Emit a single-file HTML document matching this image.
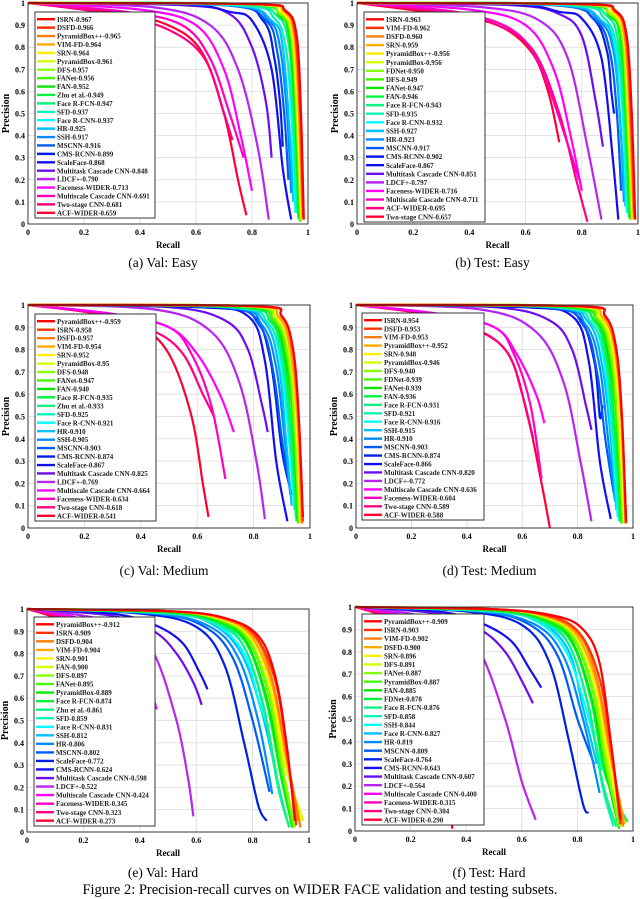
<!DOCTYPE html>
<html><head><meta charset="utf-8"><style>
html,body{margin:0;padding:0;background:#fff}
svg{display:block}
text{font-family:"Liberation Serif",serif}
</style></head><body>
<svg id="fig" width="640" height="899" viewBox="0 0 640 899" xmlns="http://www.w3.org/2000/svg"></svg>
<script>
const colors=["hsl(0,100%,50%)","hsl(12,100%,50%)","hsl(28,100%,52%)","hsl(40,100%,50%)","hsl(56,100%,50%)","hsl(70,100%,50%)","hsl(88,100%,50%)","hsl(102,100%,48%)","hsl(118,100%,45%)","hsl(135,100%,48%)","hsl(150,90%,50%)","hsl(165,90%,50%)","hsl(180,100%,50%)","hsl(195,100%,50%)","hsl(207,100%,50%)","hsl(218,100%,48%)","hsl(232,100%,45%)","hsl(242,90%,50%)","hsl(265,90%,50%)","hsl(282,90%,55%)","hsl(300,100%,50%)","hsl(315,100%,50%)","hsl(330,100%,50%)","hsl(348,100%,50%)"];
const xTicks=["0","0.2","0.4","0.6","0.8","1"];
const yTicks=["0","0.1","0.2","0.3","0.4","0.5","0.6","0.7","0.8","0.9","1"];

const namesA=["ISRN-0.967","DSFD-0.966","PyramidBox++-0.965","VIM-FD-0.964","SRN-0.964","PyramidBox-0.961","DFS-0.957","FANet-0.956","FAN-0.952","Zhu et al.-0.949","Face R-FCN-0.947","SFD-0.937","Face R-CNN-0.937","HR-0.925","SSH-0.917","MSCNN-0.916","CMS-RCNN-0.899","ScaleFace-0.868","Multitask Cascade CNN-0.848","LDCF+-0.790","Faceness-WIDER-0.713","Multiscale Cascade CNN-0.691","Two-stage CNN-0.681","ACF-WIDER-0.659"];
const curvesA=[[.8,.995,.92,.965,.96,.85,.975,.5,.985,.02],[.8,.995,.92,.96,.955,.85,.972,.5,.983,.03],[.8,.995,.92,.96,.955,.85,.97,.5,.98,.1],[.8,.995,.915,.96,.95,.85,.968,.5,.98,.02],[.8,.995,.91,.955,.948,.85,.965,.5,.978,.02],[.8,.995,.91,.95,.945,.85,.962,.5,.976,.02],[.78,.995,.9,.95,.94,.85,.96,.5,.975,.02],[.78,.995,.9,.95,.94,.85,.958,.5,.972,.01],[.78,.995,.9,.94,.935,.85,.955,.5,.97,.02],[.78,.995,.9,.94,.932,.85,.952,.5,.968,.02],[.75,.995,.89,.94,.93,.82,.95,.5,.965,.03],[.75,.99,.88,.93,.92,.8,.945,.5,.96,.05],[.75,.99,.88,.93,.92,.8,.94,.5,.955,.05],[.72,.99,.87,.92,.91,.8,.935,.4,.948,.1],[.72,.99,.86,.92,.9,.8,.925,.5,.94,.14],[.7,.99,.85,.92,.89,.78,.915,.5,.93,.2],[.7,.99,.84,.92,.88,.75,.9,.55,.91,.35],[.55,.995,.72,.96,.8,.92,.87,.7,.91,.25,.94,.02],[.55,.99,.72,.95,.8,.8,.85,.55,.87,.3],[.45,.98,.65,.9,.75,.7,.82,.35,.86,.02],[.4,.97,.6,.9,.7,.7,.76,.4,.8,.15],[.35,.96,.55,.9,.65,.75,.72,.5,.77,.3],[.3,.95,.5,.88,.63,.75,.7,.5,.73,.38],[.3,.96,.5,.9,.62,.78,.7,.5,.75,.2,.78,.04]];

const namesB=["ISRN-0.963","VIM-FD-0.962","DSFD-0.960","SRN-0.959","PyramidBox++-0.956","PyramidBox-0.956","FDNet-0.950","DFS-0.949","FANet-0.947","FAN-0.946","Face R-FCN-0.943","SFD-0.935","Face R-CNN-0.932","SSH-0.927","HR-0.923","MSCNN-0.917","CMS-RCNN-0.902","ScaleFace-0.867","Multitask Cascade CNN-0.851","LDCF+-0.797","Faceness-WIDER-0.716","Multiscale Cascade CNN-0.711","ACF-WIDER-0.695","Two-stage CNN-0.657"];
const curvesB=[[.8,.995,.92,.965,.96,.85,.978,.5,.99,.02],[.8,.995,.92,.96,.958,.85,.975,.5,.988,.03],[.8,.995,.92,.96,.955,.85,.972,.5,.985,.05],[.8,.995,.915,.96,.952,.85,.97,.5,.985,.02],[.8,.995,.91,.955,.95,.85,.968,.5,.982,.02],[.8,.995,.91,.95,.948,.85,.965,.5,.98,.02],[.78,.995,.9,.95,.945,.85,.962,.5,.978,.02],[.78,.995,.9,.95,.942,.85,.96,.5,.975,.02],[.78,.995,.9,.94,.94,.85,.958,.5,.972,.02],[.78,.995,.9,.94,.935,.85,.955,.5,.97,.03],[.75,.995,.89,.94,.93,.82,.952,.5,.968,.03],[.75,.99,.88,.93,.925,.8,.948,.5,.965,.05],[.75,.99,.88,.93,.92,.8,.945,.5,.96,.05],[.72,.99,.87,.92,.915,.8,.94,.4,.955,.08],[.72,.99,.86,.92,.91,.8,.935,.5,.95,.1],[.7,.99,.85,.92,.9,.78,.925,.5,.94,.15],[.7,.99,.84,.93,.89,.78,.905,.6,.915,.5],[.55,.995,.72,.96,.8,.93,.87,.75,.91,.3,.93,.02],[.55,.99,.72,.95,.8,.85,.85,.55,.875,.35],[.45,.98,.65,.92,.75,.75,.82,.35,.87,.02],[.4,.97,.6,.9,.7,.7,.76,.4,.8,.15],[.35,.96,.55,.88,.65,.72,.74,.4,.79,.2],[.3,.96,.5,.9,.63,.78,.72,.5,.78,.2,.82,.01],[.3,.95,.5,.9,.62,.78,.68,.6,.72,.37]];

const namesC=["PyramidBox++-0.959","ISRN-0.958","DSFD-0.957","VIM-FD-0.954","SRN-0.952","PyramidBox-0.95","DFS-0.948","FANet-0.947","FAN-0.940","Face R-FCN-0.935","Zhu et al.-0.933","SFD-0.925","Face R-CNN-0.921","HR-0.910","SSH-0.905","MSCNN-0.903","CMS-RCNN-0.874","ScaleFace-0.867","Multitask Cascade CNN-0.825","LDCF+-0.769","Multiscale Cascade CNN-0.664","Faceness-WIDER-0.634","Two-stage CNN-0.618","ACF-WIDER-0.541"];
const curvesC=[[.8,.995,.9,.95,.94,.8,.96,.5,.975,.05],[.8,.995,.9,.95,.94,.8,.96,.5,.975,.03],[.8,.995,.9,.945,.935,.8,.958,.5,.973,.02],[.78,.995,.89,.945,.93,.8,.955,.5,.97,.02],[.78,.995,.89,.94,.93,.8,.952,.5,.968,.02],[.78,.995,.88,.94,.925,.8,.95,.5,.966,.02],[.76,.995,.88,.935,.92,.8,.945,.5,.963,.02],[.76,.995,.87,.935,.915,.8,.942,.5,.96,.02],[.75,.995,.87,.93,.91,.78,.94,.5,.958,.02],[.74,.99,.86,.93,.905,.78,.935,.45,.955,.03],[.74,.99,.86,.925,.9,.78,.93,.45,.952,.03],[.72,.99,.85,.92,.9,.75,.93,.4,.95,.05],[.72,.99,.85,.92,.895,.75,.925,.4,.945,.08],[.7,.99,.84,.92,.89,.72,.915,.4,.935,.1],[.7,.99,.83,.91,.88,.72,.91,.4,.93,.15],[.68,.99,.82,.91,.87,.7,.9,.4,.925,.2],[.65,.99,.8,.95,.86,.75,.9,.35,.935,.15],[.6,.99,.78,.95,.84,.75,.88,.3,.92,.03],[.5,.99,.7,.93,.78,.8,.83,.55,.85,.43],[.45,.98,.65,.88,.75,.65,.81,.3,.84,.04],[.3,.96,.5,.9,.6,.78,.68,.6,.73,.43],[.3,.96,.5,.9,.58,.78,.65,.55,.7,.22],[.25,.96,.45,.88,.55,.78,.62,.6,.66,.5],[.25,.96,.4,.9,.5,.78,.58,.5,.62,.2,.64,.05]];

const namesD=["ISRN-0.954","DSFD-0.953","VIM-FD-0.953","PyramidBox++-0.952","SRN-0.948","PyramidBox-0.946","DFS-0.940","FDNet-0.939","FANet-0.939","FAN-0.936","Face R-FCN-0.931","SFD-0.921","Face R-CNN-0.916","SSH-0.915","HR-0.910","MSCNN-0.903","CMS-RCNN-0.874","ScaleFace-0.866","Multitask Cascade CNN-0.820","LDCF+-0.772","Multiscale Cascade CNN-0.636","Faceness-WIDER-0.604","Two-stage CNN-0.589","ACF-WIDER-0.588"];
const curvesD=[[.8,.995,.9,.95,.94,.8,.96,.5,.975,.03],[.8,.995,.9,.95,.94,.8,.96,.5,.975,.02],[.8,.995,.9,.945,.935,.8,.958,.5,.973,.02],[.78,.995,.89,.945,.935,.8,.958,.5,.975,.04],[.78,.995,.89,.94,.93,.8,.952,.5,.97,.02],[.78,.995,.88,.94,.925,.8,.95,.5,.968,.02],[.76,.995,.88,.935,.92,.8,.945,.5,.965,.02],[.76,.995,.87,.935,.915,.8,.942,.5,.962,.02],[.75,.995,.87,.93,.91,.78,.94,.5,.96,.02],[.74,.99,.86,.93,.905,.78,.935,.45,.958,.02],[.74,.99,.86,.925,.9,.78,.93,.45,.955,.03],[.72,.99,.85,.92,.9,.75,.93,.4,.95,.03],[.72,.99,.85,.92,.895,.75,.925,.4,.945,.05],[.7,.99,.84,.92,.89,.72,.92,.4,.94,.08],[.7,.99,.83,.91,.88,.72,.91,.4,.935,.12],[.68,.99,.82,.91,.87,.7,.9,.4,.93,.16],[.65,.99,.8,.95,.86,.75,.88,.5,.89,.55],[.6,.99,.78,.95,.84,.75,.88,.3,.92,.04],[.5,.99,.7,.93,.78,.8,.83,.55,.85,.44],[.45,.98,.65,.88,.75,.65,.81,.3,.85,.03],[.3,.96,.5,.9,.58,.78,.65,.6,.68,.47],[.3,.96,.5,.9,.57,.78,.63,.55,.67,.22],[.25,.96,.45,.88,.55,.78,.6,.6,.64,.4],[.25,.96,.42,.9,.55,.78,.62,.5,.67,.2,.7,.0]];

const namesE=["PyramidBox++-0.912","ISRN-0.909","DSFD-0.904","VIM-FD-0.904","SRN-0.901","FAN-0.900","DFS-0.897","FANet-0.895","PyramidBox-0.889","Face R-FCN-0.874","Zhu et al.-0.861","SFD-0.859","Face R-CNN-0.831","SSH-0.812","HR-0.806","MSCNN-0.802","ScaleFace-0.772","CMS-RCNN-0.624","Multitask Cascade CNN-0.598","LDCF+-0.522","Multiscale Cascade CNN-0.424","Faceness-WIDER-0.345","Two-stage CNN-0.323","ACF-WIDER-0.273"];
const curvesE=[[.5,.99,.7,.96,.82,.88,.88,.7,.92,.4,.95,.05],[.5,.99,.7,.96,.81,.88,.88,.68,.92,.38,.955,.03],[.5,.99,.7,.955,.81,.87,.87,.68,.915,.38,.97,.02],[.5,.99,.7,.955,.8,.87,.87,.66,.915,.36,.96,.05],[.5,.99,.7,.95,.8,.86,.865,.65,.91,.35,.975,.05],[.5,.99,.7,.95,.8,.86,.865,.64,.91,.32,.98,.05],[.5,.99,.69,.95,.79,.86,.86,.62,.905,.3,.95,.02],[.5,.99,.69,.945,.79,.85,.86,.6,.9,.3,.945,.02],[.5,.985,.69,.94,.78,.85,.85,.6,.9,.28,.94,.02],[.5,.985,.68,.94,.78,.84,.85,.58,.9,.25,.94,.03],[.5,.985,.68,.935,.77,.83,.84,.56,.89,.22,.93,.02],[.5,.98,.67,.93,.77,.83,.84,.55,.89,.2,.93,.02],[.5,.98,.67,.93,.77,.8,.82,.6,.85,.48],[.5,.98,.66,.93,.76,.8,.83,.55,.88,.28],[.45,.98,.65,.92,.75,.78,.82,.5,.87,.17],[.45,.98,.63,.92,.73,.78,.8,.5,.86,.18],[.4,.98,.6,.92,.7,.75,.77,.4,.82,.12,.85,.05],[.3,.98,.45,.93,.55,.85,.61,.72,.64,.64],[.3,.97,.45,.9,.53,.8,.59,.67,.62,.57],[.2,.97,.35,.92,.45,.8,.53,.5,.57,.25,.59,.07],[.15,.97,.3,.9,.4,.78,.46,.55],[.12,.97,.22,.92,.3,.84,.38,.7],[.1,.97,.2,.94,.28,.88,.35,.78],[.08,.97,.17,.92,.25,.84,.3,.7]];

const namesF=["PyramidBox++-0.909","ISRN-0.903","VIM-FD-0.902","DSFD-0.900","SRN-0.896","DFS-0.891","FANet-0.887","PyramidBox-0.887","FAN-0.885","FDNet-0.878","Face R-FCN-0.876","SFD-0.858","SSH-0.844","Face R-CNN-0.827","HR-0.819","MSCNN-0.809","ScaleFace-0.764","CMS-RCNN-0.643","Multitask Cascade CNN-0.607","LDCF+-0.564","Multiscale Cascade CNN-0.400","Faceness-WIDER-0.315","Two-stage CNN-0.304","ACF-WIDER-0.290"];
const curvesF=[[.5,.99,.72,.96,.82,.9,.88,.75,.92,.4,.955,.05],[.5,.99,.7,.96,.81,.88,.88,.68,.92,.38,.955,.03],[.5,.99,.7,.955,.81,.87,.87,.68,.915,.38,.965,.02],[.5,.99,.7,.955,.8,.87,.87,.66,.915,.36,.97,.03],[.5,.99,.7,.95,.8,.86,.865,.65,.91,.35,.965,.02],[.5,.99,.7,.95,.8,.86,.865,.64,.91,.32,.96,.02],[.5,.99,.69,.95,.79,.86,.86,.62,.905,.3,.95,.02],[.5,.99,.69,.945,.79,.85,.86,.6,.9,.3,.955,.02],[.5,.985,.69,.94,.78,.85,.85,.6,.9,.28,.95,.01],[.5,.985,.68,.94,.78,.84,.85,.58,.9,.25,.98,.04],[.5,.985,.68,.935,.77,.83,.84,.56,.89,.22,.94,.02],[.5,.98,.67,.93,.77,.83,.84,.55,.89,.2,.93,.02],[.5,.98,.66,.93,.76,.8,.83,.55,.89,.27],[.5,.98,.67,.93,.77,.8,.82,.55,.87,.3],[.45,.98,.65,.92,.75,.78,.82,.5,.88,.17],[.45,.98,.63,.92,.73,.78,.8,.5,.86,.3],[.4,.98,.6,.92,.7,.75,.77,.4,.82,.12,.84,.08],[.3,.98,.45,.93,.56,.85,.63,.72,.67,.64],[.3,.97,.45,.9,.54,.8,.6,.67,.64,.57],[.2,.97,.35,.92,.45,.8,.54,.5,.6,.22,.65,.05],[.15,.97,.3,.9,.4,.78,.46,.55],[.12,.97,.22,.92,.3,.84,.38,.7],[.1,.97,.2,.94,.28,.88,.35,.78],[.08,.97,.17,.92,.25,.8,.32,.4,.35,.01]];

const panels=[
 {id:"a",cap:"(a)  Val: Easy",x0:28,x1:308,yTop:3,yBot:224,lx:35,ly:12,lw:120,lh:206,capY:267,names:namesA,curves:curvesA},
 {id:"b",cap:"(b)  Test: Easy",x0:357,x1:638,yTop:3,yBot:224,lx:364,ly:12,lw:121,lh:210,capY:267,names:namesB,curves:curvesB},
 {id:"c",cap:"(c)  Val: Medium",x0:28,x1:310,yTop:305,yBot:528,lx:35,ly:314,lw:121,lh:207,capY:575,names:namesC,curves:curvesC},
 {id:"d",cap:"(d)  Test: Medium",x0:356,x1:633,yTop:305,yBot:528,lx:362,ly:313,lw:122,lh:207,capY:575,names:namesD,curves:curvesD},
 {id:"e",cap:"(e)  Val: Hard",x0:27,x1:309,yTop:609,yBot:832,lx:34,ly:617,lw:121,lh:209,capY:877,names:namesE,curves:curvesE},
 {id:"f",cap:"(f)  Test: Hard",x0:355,x1:633,yTop:607,yBot:831,lx:362,ly:614,lw:122,lh:211,capY:877,names:namesF,curves:curvesF}
];
const NS="http://www.w3.org/2000/svg";
const svg=document.getElementById("fig");
function mk(tag,attrs,parent,txt){const e=document.createElementNS(NS,tag);for(const k in attrs)e.setAttribute(k,attrs[k]);if(txt!==undefined)e.textContent=txt;(parent||svg).appendChild(e);return e;}
function pathFrom(pts){let d="M"+pts[0][0]+","+pts[0][1];for(let i=0;i<pts.length-1;i++){const p0=pts[i-1]||pts[i],p1=pts[i],p2=pts[i+1],p3=pts[i+2]||p2;const c1=[p1[0]+(p2[0]-p0[0])/6,p1[1]+(p2[1]-p0[1])/6],c2=[p2[0]-(p3[0]-p1[0])/6,p2[1]-(p3[1]-p1[1])/6];d+=" C"+c1[0].toFixed(1)+","+c1[1].toFixed(1)+" "+c2[0].toFixed(1)+","+c2[1].toFixed(1)+" "+p2[0].toFixed(1)+","+p2[1].toFixed(1);}return d;}
panels.forEach(P=>{
 const g=mk("g",{});
 
 
 const sx=r=>P.x0+r*(P.x1-P.x0), sy=p=>P.yBot-p*(P.yBot-P.yTop);
 yTicks.forEach((t,i)=>{const y=sy(+t);if(i>0&&i<yTicks.length-1)mk("line",{x1:P.x0,x2:P.x1,y1:y,y2:y,stroke:"#dcdcdc","stroke-width":0.8},g);
  const tl=mk("text",{x:P.x0-3,y:y+3,"text-anchor":"end","font-size":8,"font-weight":"bold"},g,t);
  
  });
 xTicks.forEach((t,i)=>{const x=sx(+t);if(i>0&&i<xTicks.length-1)mk("line",{x1:x,x2:x,y1:P.yTop,y2:P.yBot,stroke:"#dcdcdc","stroke-width":0.8},g);
  const tl=mk("text",{x:x,y:P.yBot+11,"text-anchor":"middle","font-size":8,"font-weight":"bold"},g,t);
  
  });
 for(let i=P.curves.length-1;i>=0;i--){const c=P.curves[i];const pts=[[sx(0),sy(1)]];for(let k=0;k<c.length;k+=2)pts.push([sx(c[k]),sy(c[k+1])]);
  const pe=mk("path",{d:pathFrom(pts),fill:"none",stroke:colors[i],"stroke-width":2.2,"stroke-linejoin":"round"},g);
  
  }
 const box=mk("rect",{x:P.x0,y:P.yTop,width:P.x1-P.x0,height:P.yBot-P.yTop,fill:"none",stroke:"#222","stroke-width":0.9},g);
 
 
 const lg=mk("g",{},g);
 
 
 mk("rect",{x:P.lx,y:P.ly,width:P.lw,height:P.lh,fill:"#fff",stroke:"#222","stroke-width":0.9},lg);
 const rh=(P.lh-4)/P.names.length;
 P.names.forEach((n,i)=>{const y=P.ly+3+rh*(i+0.5);
  const sw=mk("line",{x1:P.lx+2,x2:P.lx+20,y1:y,y2:y,stroke:colors[i],"stroke-width":2.4},lg);
  
  
  const tx=mk("text",{x:P.lx+22,y:y+2.6,"font-size":7,"font-weight":"bold",fill:"#222"},lg,n);
  
  });
 const yl=mk("text",{x:0,y:0,transform:"translate("+(P.x0-19)+","+((P.yTop+P.yBot)/2)+") rotate(-90)","text-anchor":"middle","font-size":10,"font-weight":"bold"},g,"Precision");
 
 
 const xl=mk("text",{x:(P.x0+P.x1)/2,y:P.yBot+24,"text-anchor":"middle","font-size":9,"font-weight":"bold"},g,"Recall");
 
 
 const cp=mk("text",{x:(P.x0+P.x1)/2-5,y:P.capY,"text-anchor":"middle","font-size":13.5},g,P.cap);
 
 
});
const fc=mk("text",{x:320,y:894,"text-anchor":"middle","font-size":14.5},svg,"Figure 2: Precision-recall curves on WIDER FACE validation and testing subsets.");


</script>
</body></html>
